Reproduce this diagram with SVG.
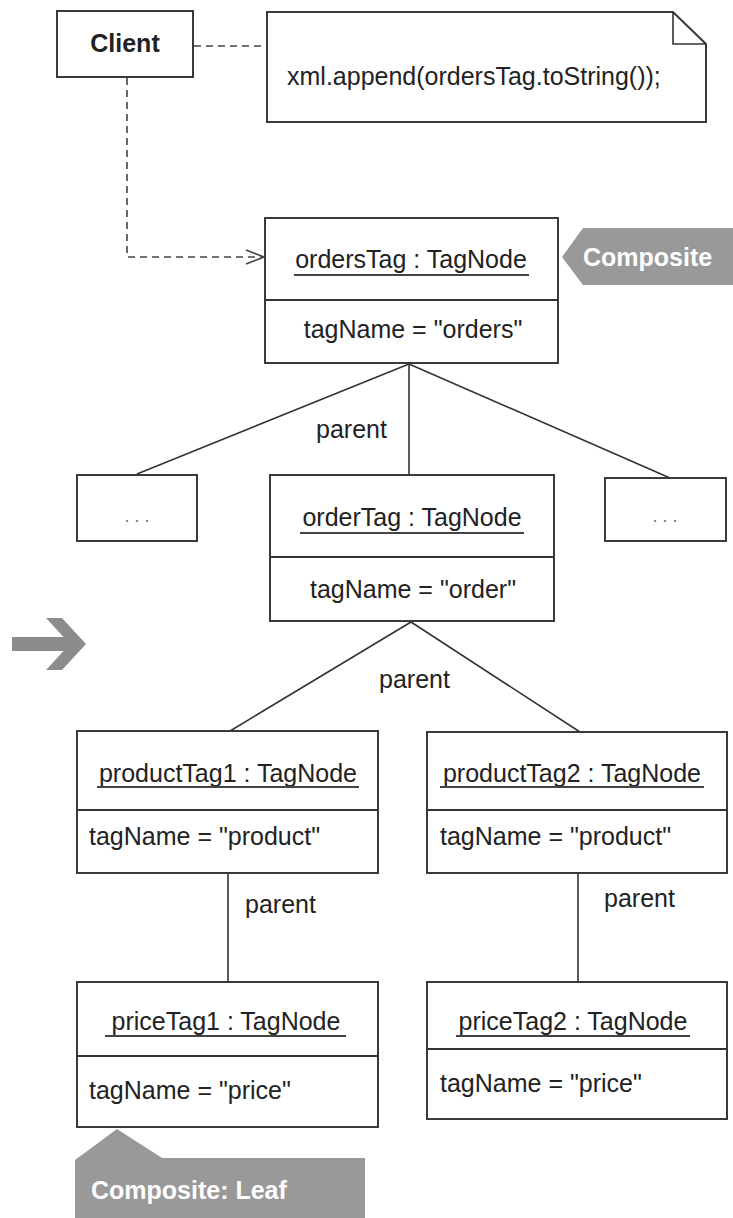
<svg xmlns="http://www.w3.org/2000/svg" width="733" height="1218" viewBox="0 0 733 1218">
<defs>
<style>
.box{fill:#fff;stroke:#3a3a3a;stroke-width:2}
.ln{fill:none;stroke:#333;stroke-width:1.6}
.dash{fill:none;stroke:#444;stroke-width:1.6;stroke-dasharray:7 5}
.t{font-family:"Liberation Sans",Arial,sans-serif;font-size:25px;fill:#222}
.c{text-anchor:middle}
.b{font-weight:bold}
.tagbg{fill:#999}
.tagtx{font-family:"Liberation Sans",Arial,sans-serif;font-size:25px;font-weight:bold;fill:#fff}
.ul{stroke:#444;stroke-width:2}
</style>
<marker id="open" viewBox="0 0 20 16" refX="19" refY="8" markerWidth="20" markerHeight="16" markerUnits="userSpaceOnUse" orient="auto">
<path d="M1,1 L19,8 L1,15" fill="none" stroke="#444" stroke-width="1.6"/>
</marker>
</defs>

<g id="connectors">
<line class="dash" x1="194" y1="46" x2="266" y2="46"/>
<polyline class="dash" points="127,78 127,257 264,257" marker-end="url(#open)"/>
<line class="ln" x1="409" y1="364" x2="137" y2="474"/>
<line class="ln" x1="409" y1="364" x2="409" y2="475"/>
<line class="ln" x1="409" y1="364" x2="670" y2="478"/>
<text class="t" x="316" y="438">parent</text>
<line class="ln" x1="411" y1="622" x2="230" y2="731"/>
<line class="ln" x1="411" y1="622" x2="580" y2="732"/>
<text class="t" x="379" y="688">parent</text>
<line class="ln" x1="228" y1="873" x2="228" y2="982"/>
<text class="t" x="245" y="913">parent</text>
<line class="ln" x1="578" y1="873" x2="578" y2="982"/>
<text class="t" x="604" y="907">parent</text>
</g>

<g id="client">
<rect class="box" x="57" y="11" width="136" height="66"/>
<text class="t c b" x="125" y="52">Client</text>
</g>

<g id="note">
<path class="box" d="M267,12 H673 L706,44 V122 H267 Z"/>
<path class="ln" d="M673,12 V44 H706"/>
<text class="t" x="287" y="85">xml.append(ordersTag.toString());</text>
</g>

<g id="ordersTag">
<rect class="box" x="265" y="218" width="293" height="145"/>
<line class="ln" x1="265" y1="300" x2="558" y2="300" style="stroke-width:2"/>
<text class="t c" x="411" y="268">ordersTag : TagNode</text>
<line class="ul" x1="294" y1="275" x2="529" y2="275"/>
<text class="t c" x="413" y="338">tagName = "orders"</text>
</g>

<g id="compositeTag">
<polygon class="tagbg" points="562,257 583,228 733,228 733,285 583,285"/>
<text class="tagtx" x="583" y="266">Composite</text>
</g>

<g id="dotsLeft">
<rect class="box" x="77" y="475" width="120" height="66"/>
<text class="t c" x="137" y="522" style="font-size:18px;fill:#777">. . .</text>
</g>

<g id="orderTag">
<rect class="box" x="270" y="475" width="284" height="146"/>
<line class="ln" x1="270" y1="557" x2="554" y2="557" style="stroke-width:2"/>
<text class="t c" x="412" y="526">orderTag : TagNode</text>
<line class="ul" x1="300" y1="533" x2="524" y2="533"/>
<text class="t c" x="413" y="598">tagName = "order"</text>
</g>

<g id="dotsRight">
<rect class="box" x="605" y="478" width="121" height="63"/>
<text class="t c" x="665" y="522" style="font-size:18px;fill:#777">. . .</text>
</g>

<g id="arrow">
<rect x="12" y="637" width="58" height="14" fill="#8c8c8c"/>
<polygon points="46,618 62,618 86,644 62,670 46,670 70,644" fill="#8c8c8c"/>
</g>

<g id="productTag1">
<rect class="box" x="77" y="731" width="301" height="142"/>
<line class="ln" x1="77" y1="810" x2="378" y2="810" style="stroke-width:2"/>
<text class="t c" x="228" y="782">productTag1 : TagNode</text>
<line class="ul" x1="97" y1="787" x2="359" y2="787"/>
<text class="t" x="89" y="845">tagName = "product"</text>
</g>

<g id="productTag2">
<rect class="box" x="427" y="732" width="300" height="141"/>
<line class="ln" x1="427" y1="810" x2="727" y2="810" style="stroke-width:2"/>
<text class="t c" x="572" y="782">productTag2 : TagNode</text>
<line class="ul" x1="440" y1="787" x2="704" y2="787"/>
<text class="t" x="440" y="845">tagName = "product"</text>
</g>

<g id="priceTag1">
<rect class="box" x="77" y="982" width="301" height="145"/>
<line class="ln" x1="77" y1="1056" x2="378" y2="1056" style="stroke-width:2"/>
<text class="t c" x="226" y="1030">priceTag1 : TagNode</text>
<line class="ul" x1="105" y1="1036" x2="346" y2="1036"/>
<text class="t" x="89" y="1099">tagName = "price"</text>
</g>

<g id="priceTag2">
<rect class="box" x="427" y="982" width="300" height="137"/>
<line class="ln" x1="427" y1="1049" x2="727" y2="1049" style="stroke-width:2"/>
<text class="t c" x="573" y="1030">priceTag2 : TagNode</text>
<line class="ul" x1="456" y1="1036" x2="690" y2="1036"/>
<text class="t" x="440" y="1092">tagName = "price"</text>
</g>

<g id="leafTag">
<polygon class="tagbg" points="117,1129 75,1160 75,1218 365,1218 365,1158 162,1158"/>
<text class="tagtx" x="91" y="1199">Composite: Leaf</text>
</g>
</svg>
